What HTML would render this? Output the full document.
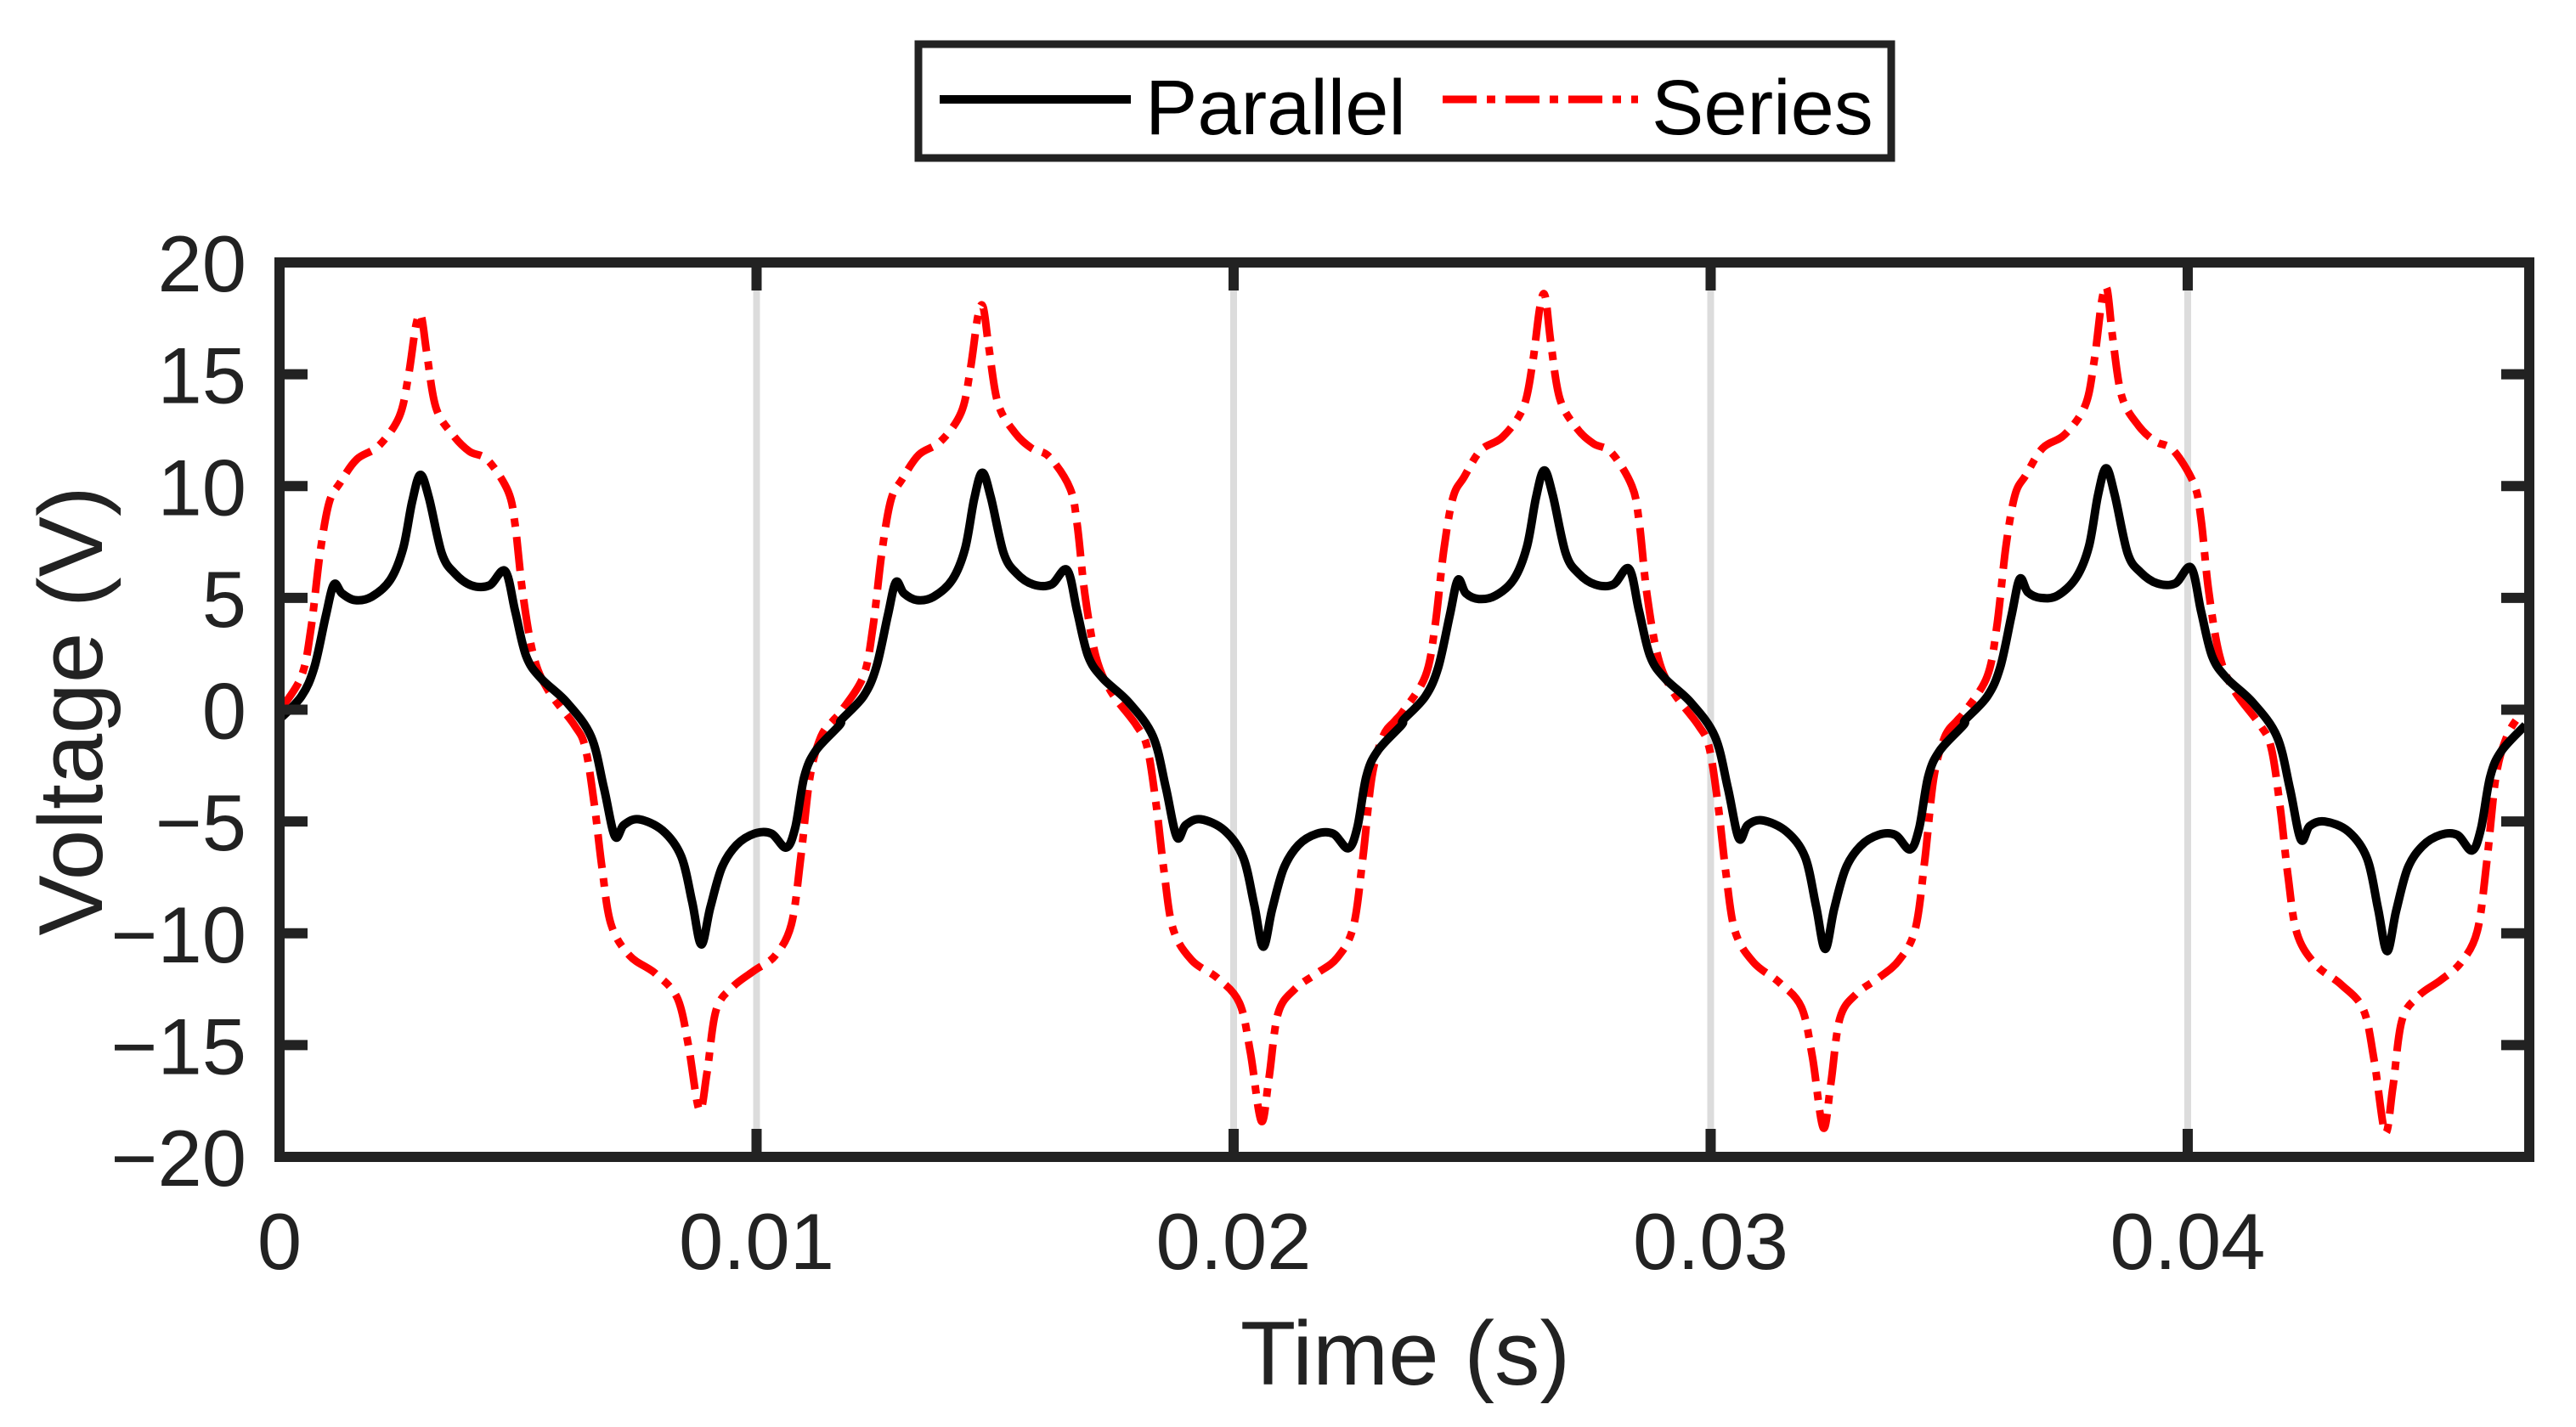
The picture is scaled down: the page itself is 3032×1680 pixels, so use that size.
<!DOCTYPE html>
<html><head><meta charset="utf-8"><style>
html,body{margin:0;padding:0;background:#fff;}
svg text{font-family:"Liberation Sans",Arial,sans-serif;fill:#222;}
</style></head><body>
<svg id="chart" width="3032" height="1675" viewBox="0 0 3032 1675" xmlns="http://www.w3.org/2000/svg">
<defs><clipPath id="plotclip"><rect x="329" y="309" width="2648" height="1053"/></clipPath></defs>
<g id="grid"></g>
<g id="series" clip-path="url(#plotclip)"></g>
<g id="axes"></g>
<text x="1654" y="1630" font-size="107" text-anchor="middle">Time (s)</text>
<text transform="translate(120,837) rotate(-90)" font-size="107" text-anchor="middle">Voltage (V)</text>
<g>
<rect x="1081" y="52" width="1145" height="134" fill="#fff" stroke="#222" stroke-width="9"/>
<line x1="1106" y1="117" x2="1331" y2="117" stroke="#000" stroke-width="10"/>
<text x="1348" y="158" font-size="92" style="fill:#000">Parallel</text>
<line x1="1698" y1="117" x2="1928" y2="117" stroke="#f00" stroke-width="9" stroke-dasharray="40 12 10 12"/>
<text x="1944" y="158" font-size="92" style="fill:#000">Series</text>
</g>
</svg>
<script>
const xTicks = [0, 0.01, 0.02, 0.03, 0.04];
const xTickLabels = ["0", "0.01", "0.02", "0.03", "0.04"];
const yTicks = [-20, -15, -10, -5, 0, 5, 10, 15, 20];
const yTickLabels = ["\u221220", "\u221215", "\u221210", "\u22125", "0", "5", "10", "15", "20"];
const cycleStarts = [0, 0.01178, 0.02356, 0.03534];
const parallelPhase = [0,0.00046,0.00073,0.00097,0.00114,0.00131,0.00158,0.00193,0.00232,0.00259,0.00278,0.00295,0.00313,0.0034,0.00367,0.00402,0.0044,0.00473,0.00494,0.00517,0.00548,0.00602,0.00653,0.0068,0.00703,0.00722,0.00753,0.00803,0.00842,0.00865,0.00884,0.00903,0.00927,0.00958,0.00996,0.01031,0.01062,0.01081,0.011,0.01124,0.01174];
const parallelC1 = [-0.43,0.6,1.9,4.2,5.6,5.2,4.9,5.05,5.8,7.2,9.3,10.5,9.5,7.0,6.1,5.56,5.56,6.2,4.4,2.4,1.4,0.33,-1.2,-3.5,-5.66,-5.15,-4.9,-5.4,-6.56,-8.6,-10.5,-8.85,-7.07,-6.05,-5.54,-5.54,-6.17,-5.28,-3.0,-1.84,-0.69];
const parallelC2 = [-0.45,0.6,1.9,4.2,5.7,5.2,4.9,5.05,5.8,7.2,9.4,10.6,9.5,7.0,6.1,5.6,5.6,6.25,4.4,2.4,1.4,0.33,-1.2,-3.5,-5.7,-5.15,-4.9,-5.4,-6.6,-8.7,-10.6,-8.9,-7.1,-6.05,-5.55,-5.55,-6.2,-5.3,-3.0,-1.84,-0.69];
const parallelC3 = [-0.45,0.6,1.9,4.2,5.8,5.2,4.95,5.1,5.85,7.3,9.5,10.7,9.6,7.0,6.1,5.6,5.6,6.3,4.4,2.4,1.4,0.33,-1.2,-3.5,-5.75,-5.15,-4.95,-5.45,-6.6,-8.8,-10.7,-8.9,-7.1,-6.1,-5.6,-5.6,-6.25,-5.3,-3.0,-1.84,-0.69];
const parallelC4 = [-0.45,0.6,1.9,4.25,5.85,5.25,5.0,5.1,5.9,7.3,9.6,10.8,9.6,7.0,6.15,5.65,5.65,6.35,4.4,2.4,1.4,0.33,-1.2,-3.5,-5.8,-5.2,-5.0,-5.45,-6.65,-8.9,-10.8,-9.0,-7.1,-6.1,-5.6,-5.6,-6.3,-5.3,-3.0,-1.84,-0.69];
const seriesPhase = [0,0.00046,0.00066,0.00085,0.00104,0.00127,0.00162,0.00208,0.00251,0.0027,0.00286,0.00297,0.00309,0.00328,0.00363,0.00398,0.00436,0.00479,0.00494,0.0051,0.00533,0.00564,0.00618,0.00641,0.0066,0.00676,0.00695,0.00734,0.00788,0.00834,0.00857,0.0088,0.00896,0.00915,0.0095,0.00996,0.01039,0.01073,0.01093,0.01112,0.01135,0.0116];
const seriesC1 = [-0.05,1.5,3.65,7.0,9.26,10.15,11.2,11.8,13.1,14.9,17.2,17.6,15.9,13.5,12.3,11.55,11.17,9.77,8.24,5.18,2.37,0.84,-0.69,-1.7,-4.26,-7.07,-9.6,-11.0,-11.8,-12.9,-15.0,-17.9,-16.25,-13.45,-12.4,-11.66,-11.0,-9.6,-6.55,-3.0,-1.2,-0.5];
const seriesC2 = [-0.05,1.5,3.7,7.1,9.4,10.3,11.4,12.0,13.3,15.2,17.6,18.0,16.2,13.7,12.4,11.7,11.3,9.9,8.3,5.2,2.4,0.84,-0.69,-1.7,-4.3,-7.2,-9.8,-11.2,-12.0,-13.1,-15.3,-18.4,-16.5,-13.6,-12.5,-11.8,-11.1,-9.7,-6.6,-3.0,-1.2,-0.5];
const seriesC3 = [-0.05,1.5,3.7,7.2,9.5,10.4,11.6,12.2,13.5,15.4,18.0,18.5,16.4,13.9,12.6,11.9,11.5,10.0,8.4,5.25,2.4,0.84,-0.69,-1.7,-4.35,-7.3,-9.9,-11.3,-12.2,-13.3,-15.5,-18.7,-16.7,-13.8,-12.7,-12.0,-11.2,-9.8,-6.7,-3.0,-1.2,-0.5];
const seriesC4 = [-0.05,1.5,3.75,7.3,9.6,10.5,11.7,12.3,13.6,15.6,18.3,18.8,16.6,14.0,12.7,12.0,11.6,10.1,8.5,5.3,2.4,0.84,-0.69,-1.7,-4.4,-7.4,-10.0,-11.4,-12.3,-13.4,-15.7,-18.9,-16.9,-13.9,-12.8,-12.1,-11.3,-9.9,-6.8,-3.0,-1.2,-0.3];

const X0=329, X1=2977, Y0=1362, Y1=309;
const XMIN=0, XMAX=0.04716, YMIN=-20, YMAX=20;
function sx(t){return X0+(t-XMIN)/(XMAX-XMIN)*(X1-X0);}
function sy(v){return Y0-(v-YMIN)/(YMAX-YMIN)*(Y0-Y1);}
const NS="http://www.w3.org/2000/svg";
function mk(tag,attrs,parent){const e=document.createElementNS(NS,tag);for(const k in attrs)e.setAttribute(k,attrs[k]);parent.appendChild(e);return e;}
const grid=document.getElementById('grid'), axes=document.getElementById('axes'), series=document.getElementById('series');

xTicks.forEach((t,i)=>{
  if(t>XMIN){
    const g=mk('line',{x1:sx(t),x2:sx(t),y1:Y1,y2:Y0,stroke:'#dcdcdc','stroke-width':8},grid);
    
    
  }
  const tb=mk('line',{x1:sx(t),x2:sx(t),y1:Y0,y2:Y0-33,stroke:'#222','stroke-width':12},axes);
  
  
  const tt=mk('line',{x1:sx(t),x2:sx(t),y1:Y1,y2:Y1+33,stroke:'#222','stroke-width':12},axes);
  
  
  const lb=mk('text',{x:sx(t),y:1494,'font-size':94,'text-anchor':'middle'},axes);
  lb.textContent=xTickLabels[i];
  
  
});
yTicks.forEach((v,i)=>{
  const tl=mk('line',{x1:X0,x2:X0+33,y1:sy(v),y2:sy(v),stroke:'#222','stroke-width':12},axes);
  
  
  const tr=mk('line',{x1:X1,x2:X1-33,y1:sy(v),y2:sy(v),stroke:'#222','stroke-width':12},axes);
  
  
  const lb=mk('text',{x:290,y:sy(v)+34,'font-size':94,'text-anchor':'end'},axes);
  lb.textContent=yTickLabels[i];
  
  
});
const frame=mk('rect',{x:X0,y:Y1,width:X1-X0,height:Y0-Y1,fill:'none',stroke:'#222','stroke-width':12},axes);



function buildPts(phase,cycles){
  const pts=[];
  cycles.forEach((vals,c)=>{phase.forEach((p,j)=>{pts.push([sx(cycleStarts[c]+p),sy(vals[j])]);});});
  return pts;
}
function smoothPath(pts){
  let d='M'+pts[0][0].toFixed(1)+','+pts[0][1].toFixed(1);
  for(let i=0;i<pts.length-1;i++){
    const p0=pts[Math.max(0,i-1)],p1=pts[i],p2=pts[i+1],p3=pts[Math.min(pts.length-1,i+2)];
    const c1x=p1[0]+(p2[0]-p0[0])/6,c1y=p1[1]+(p2[1]-p0[1])/6;
    const c2x=p2[0]-(p3[0]-p1[0])/6,c2y=p2[1]-(p3[1]-p1[1])/6;
    d+=' C'+c1x.toFixed(1)+','+c1y.toFixed(1)+' '+c2x.toFixed(1)+','+c2y.toFixed(1)+' '+p2[0].toFixed(1)+','+p2[1].toFixed(1);
  }
  return d;
}
const sp=mk('path',{d:smoothPath(buildPts(seriesPhase,[seriesC1,seriesC2,seriesC3,seriesC4])),fill:'none',stroke:'#f00','stroke-width':9,'stroke-dasharray':'40 12 10 12','stroke-linejoin':'round'},series);


const pp=mk('path',{d:smoothPath(buildPts(parallelPhase,[parallelC1,parallelC2,parallelC3,parallelC4])),fill:'none',stroke:'#000','stroke-width':10,'stroke-linejoin':'round'},series);


</script>
</body></html>
